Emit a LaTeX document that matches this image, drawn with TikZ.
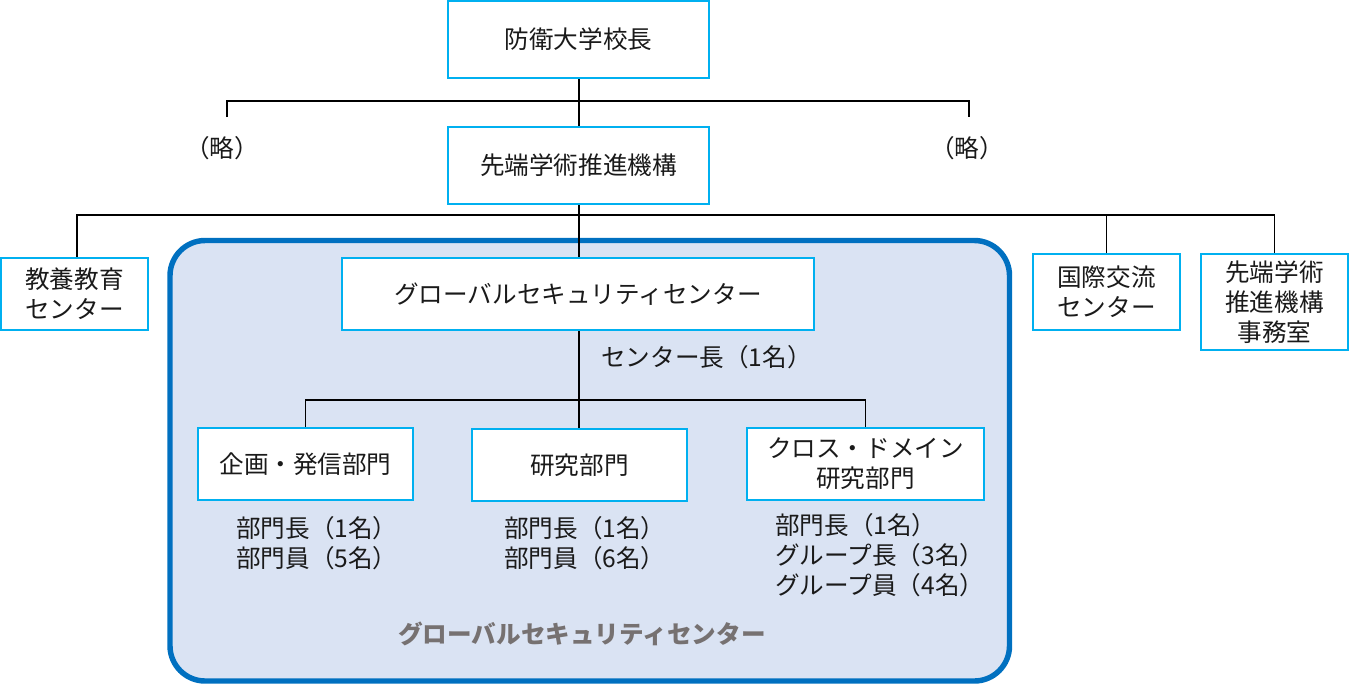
\documentclass[tikz,border=0pt]{standalone}
\usepackage{fontspec}
\newfontfamily\jp{Noto Sans CJK JP}
\definecolor{boxc}{HTML}{00B0F0}
\definecolor{gscb}{HTML}{0070C0}
\definecolor{gscf}{HTML}{DAE3F3}
\definecolor{txtg}{HTML}{767171}
\definecolor{txt}{HTML}{1A1A1A}
\begin{document}
\begin{tikzpicture}[x=0.02cm,y=-0.02cm,
  org/.style={draw=boxc,line width=1.5pt,fill=white,align=center,inner sep=0pt,
    font=\jp\fontsize{14}{17}\selectfont,text=txt},
  lbl/.style={align=left,inner sep=0pt,font=\jp\fontsize{14}{17}\selectfont,text=txt},
  conn/.style={draw=black,line width=0.6pt}]
\useasboundingbox (0,0) rectangle (1349,684);
% big GSC area
\draw[line width=3.1pt,draw=gscb,fill=gscf,rounded corners=20pt] (170,240.5) rectangle (1009.5,681);
% nodes
\node[org,minimum width=261*0.02cm,minimum height=77*0.02cm] (pres) at (578.5,39.5) {防衛大学校長};
\node[org,minimum width=261*0.02cm,minimum height=77*0.02cm] (inst) at (578.5,165.5) {先端学術推進機構};
\node[lbl,anchor=center] (ryL) at (222,148) {（略）};
\node[lbl,anchor=center] (ryR) at (967,148) {（略）};
\node[org,minimum width=147*0.02cm,minimum height=72*0.02cm] (kyo) at (74.5,294) {教養教育\\センター};
\node[org,minimum width=147*0.02cm,minimum height=76*0.02cm] (koku) at (1106.5,292) {国際交流\\センター};
\node[org,minimum width=147*0.02cm,minimum height=96*0.02cm] (jim) at (1274.5,302) {先端学術\\推進機構\\事務室};
\node[org,minimum width=472*0.02cm,minimum height=72*0.02cm] (gsc) at (578,294) {グローバルセキュリティセンター};
\node[lbl,anchor=west] (chief) at (601,357) {センター長（1名）};
\node[org,minimum width=215*0.02cm,minimum height=72*0.02cm] (kik) at (305.5,464) {企画・発信部門};
\node[org,minimum width=215*0.02cm,minimum height=72*0.02cm] (ken) at (579.5,465) {研究部門};
\node[org,minimum width=237*0.02cm,minimum height=72*0.02cm] (cross) at (865.5,464) {クロス・ドメイン\\研究部門};
\node[lbl,anchor=west] (kikm) at (236,543) {部門長（1名）\\部門員（5名）};
\node[lbl,anchor=west] (kenm) at (504,543) {部門長（1名）\\部門員（6名）};
\node[lbl,anchor=west] (crossm) at (775,555) {部門長（1名）\\グループ長（3名）\\グループ員（4名）};
\node[inner sep=0pt,font=\jp\bfseries\fontsize{14}{17}\selectfont,text=txtg] (title) at (582,634) {グローバルセキュリティセンター};
% connectors
\coordinate (bar1) at (579,101);
\coordinate (ryLt) at (227,117);
\coordinate (ryRt) at (969,117);
\coordinate (bar2) at (579,215);
\coordinate (bar3) at (579,400);
\draw[conn] (bar1 |- pres.south) -- (bar1 |- inst.north);
\draw[conn] (ryLt) |- (bar1) -| (ryRt);
\draw[conn] (bar2 |- inst.south) -- (bar2 |- gsc.north);
\draw[conn] ([xshift=2.5*0.02cm]kyo.north) |- (bar2) -| (jim.north);
\draw[conn] (koku.north) |- (bar2);
\draw[conn] (bar3 |- gsc.south) -- (bar3 |- ken.north);
\draw[conn] (kik.north) |- (bar3) -| (cross.north);
\end{tikzpicture}
\end{document}
